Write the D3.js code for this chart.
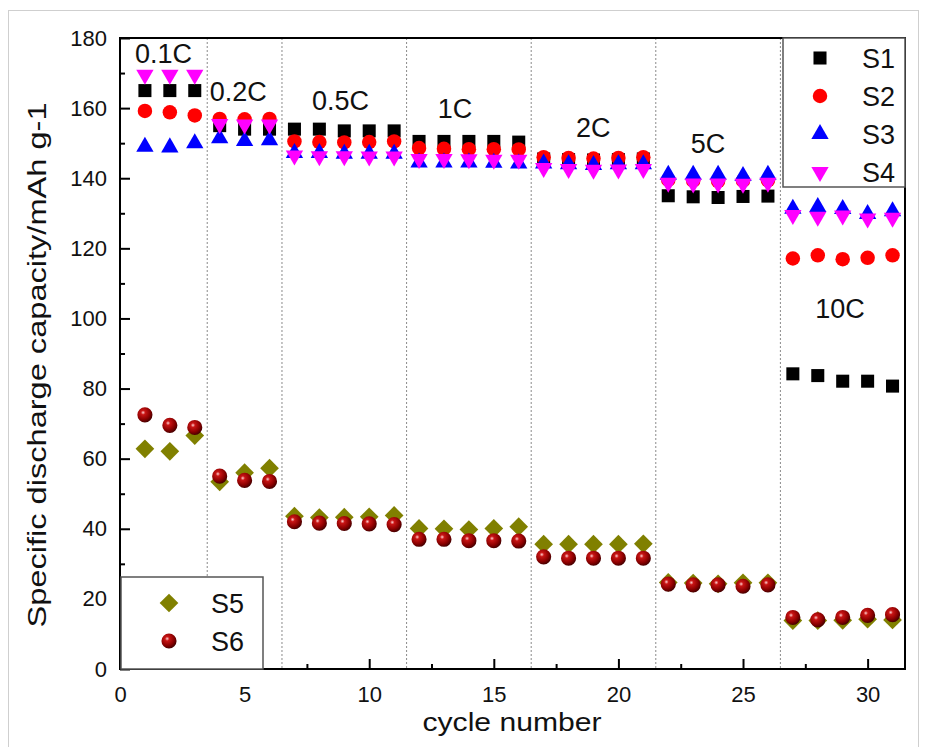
<!DOCTYPE html>
<html>
<head>
<meta charset="utf-8">
<script src="https://cdn.jsdelivr.net/npm/d3@7"></script>
<style>
  body { margin: 0; background: #fff; }
  svg text { font-family: Arial, "Liberation Sans", sans-serif; fill: #111; }
</style>
</head>
<body>
<div id="visual"></div>
<script>
let W = 926, H = 747
let X0 = 120, X1 = 905, Y0 = 669, Y1 = 38

// data
let cycles = d3.range(1, 32)
let S1 = [165, 165, 165, 155, 154, 154, 154, 154, 153.5, 153.5, 153.5, 150.5, 150.5, 150.5, 150.5, 150.3,
  145.5, 145.3, 145.2, 145.3, 145.5, 135, 134.7, 134.5, 134.8, 134.9, 84.2, 83.7, 82.1, 82.1, 80.7]
let S2 = [159.2, 158.8, 157.9, 156.9, 156.8, 156.9, 150.5, 150.3, 150.2, 150.3, 150.5, 148.6, 148.4, 148.3, 148.3, 148.2,
  146, 145.8, 145.6, 145.8, 146, 139.5, 139.3, 139.2, 139.3, 139.4, 117.1, 118, 116.9, 117.3, 118]
let S3 = [149, 148.8, 150, 151.4, 150.6, 150.8, 147.2, 147.2, 147, 147, 147, 144.5, 144.5, 144.5, 144.4, 144.2,
  144.2, 144, 143.8, 144, 144, 141, 141, 141, 140.6, 141, 131.3, 131.8, 131.2, 129.8, 130.6]
let S4 = [169.5, 169.5, 169.5, 155.5, 155.3, 155.3, 146.5, 146.3, 146.3, 146.2, 146.2, 145.5, 145.5, 145.4, 145.3, 145.3,
  142.9, 142.6, 142.4, 142.5, 142.6, 138.7, 138.5, 138.5, 138.4, 138.7, 129.5, 129, 129.4, 128.5, 128.7]
let S5 = [62.8, 62.1, 66.6, 53.4, 56, 57.3, 43.6, 43.2, 43.3, 43.4, 43.8, 40.1, 40, 39.8, 40.1, 40.6,
  35.6, 35.6, 35.6, 35.6, 35.7, 24.7, 24.5, 24.3, 24.6, 24.6, 13.8, 13.8, 13.9, 14.2, 14]
let S6 = [72.5, 69.5, 68.9, 55, 53.8, 53.5, 42, 41.6, 41.5, 41.4, 41.2, 37, 37, 36.6, 36.6, 36.5,
  32, 31.6, 31.6, 31.6, 31.6, 24.2, 24, 24, 23.6, 24, 14.7, 14, 14.7, 15.3, 15.5]

let seriesNames = ["S1", "S2", "S3", "S4", "S5", "S6"]
let seriesValues = [S1, S2, S3, S4, S5, S6]

let rateBreaks = [3.5, 6.5, 11.5, 16.5, 21.5, 26.5]
let rateLabels = ["0.1C", "0.2C", "0.5C", "1C", "2C", "5C", "10C"]
let rateLabelX = [0.6, 3.6, 7.7, 12.75, 18.3, 22.9, 27.9]
let rateLabelY = [172.8, 162, 159.4, 157.2, 151.7, 147.3, 100.1]

let xTicks = [0, 5, 10, 15, 20, 25, 30]
let xMinor = [2.5, 7.5, 12.5, 17.5, 22.5, 27.5]
let yTicks = d3.range(0, 181, 20)
let yMinor = d3.range(10, 180, 20)

let svg = d3.select("#visual").append("svg")
    .attr("width", W)
    .attr("height", H)

let defs = svg.append("defs")
let grad = defs.append("radialGradient").attr("id", "ball")
    .attr("cx", "38%").attr("cy", "35%").attr("r", "65%")
grad.append("stop").attr("offset", "0%").attr("stop-color", "#ffd0d0")
grad.append("stop").attr("offset", "22%").attr("stop-color", "#c81414")
grad.append("stop").attr("offset", "70%").attr("stop-color", "#8a0000")
grad.append("stop").attr("offset", "100%").attr("stop-color", "#4a0000")

// faint outer frame
svg.append("rect")
    .attr("x", 8.5).attr("y", 10.5)
    .attr("width", 910).attr("height", 760)
    .attr("fill", "none").attr("stroke", "#cfcfcf")

let x = d3.scaleLinear().domain([0, 31.5]).range([X0, X1])
let y = d3.scaleLinear().domain([0, 180]).range([Y0, Y1])

// rate separators
svg.selectAll(".sep")
    .data(rateBreaks)
    .enter()
    .append("line")
    .attr("x1", d => x(d)).attr("x2", d => x(d))
    .attr("y1", Y1).attr("y2", Y0)
    .attr("stroke", "#8a8a8a")
    .attr("stroke-width", 1)
    .attr("stroke-dasharray", "2,2")

// marker shapes
let shapes = [
    { type: d3.symbolSquare, size: 170, fill: "#000", rot: 0 },
    { type: d3.symbolCircle, size: 165, fill: "#ff0000", rot: 0 },
    { type: d3.symbolTriangle, size: 130, fill: "#0000ff", rot: 0 },
    { type: d3.symbolTriangle, size: 130, fill: "#ff00ff", rot: 180 },
    { type: d3.symbolSquare, size: 175, fill: "#808000", rot: 45 },
    { type: d3.symbolCircle, size: 180, fill: "url(#ball)", rot: 0 }
]

let plot = svg.append("g")
seriesValues.forEach((vals, i) => {
    let s = shapes[i]
    plot.append("g").selectAll("path")
        .data(vals)
        .enter()
        .append("path")
        .attr("d", d3.symbol().type(s.type).size(s.size))
        .attr("transform", (d, j) => "translate(" + x(cycles[j]) + "," + y(d) + ") rotate(" + s.rot + ")")
        .attr("fill", s.fill)
})

// rate labels
svg.selectAll(".rate")
    .data(rateLabels)
    .enter()
    .append("text")
    .attr("x", (d, i) => x(rateLabelX[i]))
    .attr("y", (d, i) => y(rateLabelY[i]))
    .attr("font-size", 27)
    .text(d => d)

// axes
let xAxis = svg.append("g")
    .attr("transform", "translate(0," + Y0 + ")")
    .call(d3.axisBottom(x).tickValues(xTicks).tickSizeInner(-10).tickSizeOuter(0).tickPadding(17))
let xAxisMinor = svg.append("g")
    .attr("transform", "translate(0," + Y0 + ")")
    .call(d3.axisBottom(x).tickValues(xMinor).tickSizeInner(-5).tickSizeOuter(0).tickFormat(""))
let yAxis = svg.append("g")
    .attr("transform", "translate(" + X0 + ",0)")
    .call(d3.axisLeft(y).tickValues(yTicks).tickSizeInner(-10).tickSizeOuter(0).tickPadding(13))
let yAxisMinor = svg.append("g")
    .attr("transform", "translate(" + X0 + ",0)")
    .call(d3.axisLeft(y).tickValues(yMinor).tickSizeInner(-5).tickSizeOuter(0).tickFormat(""))

svg.selectAll(".domain").remove()
svg.selectAll(".tick line").attr("stroke", "#000").attr("stroke-width", 2)
svg.selectAll(".tick text")
    .attr("font-size", 22)
    .attr("font-family", "Arial, 'Liberation Sans', sans-serif")
    .attr("fill", "#111")

// plot frame
svg.append("rect")
    .attr("x", X0).attr("y", Y1)
    .attr("width", X1 - X0).attr("height", Y0 - Y1)
    .attr("fill", "none")
    .attr("stroke", "#000")
    .attr("stroke-width", 2)

// axis titles
svg.append("text")
    .attr("transform", "translate(46,365) rotate(-90)")
    .attr("text-anchor", "middle")
    .attr("font-size", 25)
    .attr("textLength", 525)
    .attr("lengthAdjust", "spacingAndGlyphs")
    .text("Specific discharge capacity/mAh g-1")

svg.append("text")
    .attr("x", 512).attr("y", 731)
    .attr("text-anchor", "middle")
    .attr("font-size", 26)
    .attr("textLength", 179)
    .attr("lengthAdjust", "spacingAndGlyphs")
    .text("cycle number")

// legends
function legend(names, idx, bx, by, bw, bh, rowY, symX, textX) {
    let g = svg.append("g")
    g.append("rect")
        .attr("x", bx).attr("y", by)
        .attr("width", bw).attr("height", bh)
        .attr("fill", "#fff")
        .attr("stroke", "#555")
        .attr("stroke-width", 1.5)
    names.forEach((n, k) => {
        let s = shapes[idx[k]]
        g.append("path")
            .attr("d", d3.symbol().type(s.type).size(s.size))
            .attr("transform", "translate(" + symX + "," + rowY[k] + ") rotate(" + s.rot + ")")
            .attr("fill", s.fill)
        g.append("text")
            .attr("x", textX).attr("y", rowY[k])
            .attr("dy", "0.36em")
            .attr("font-size", 27)
            .text(n)
    })
}

legend(seriesNames.slice(0, 4), [0, 1, 2, 3], 783, 38, 122, 149, [58, 96, 134, 172], 820, 862)
legend(seriesNames.slice(4), [4, 5], 121, 577, 142, 92, [603, 641], 169, 211)
</script>
</body>
</html>
